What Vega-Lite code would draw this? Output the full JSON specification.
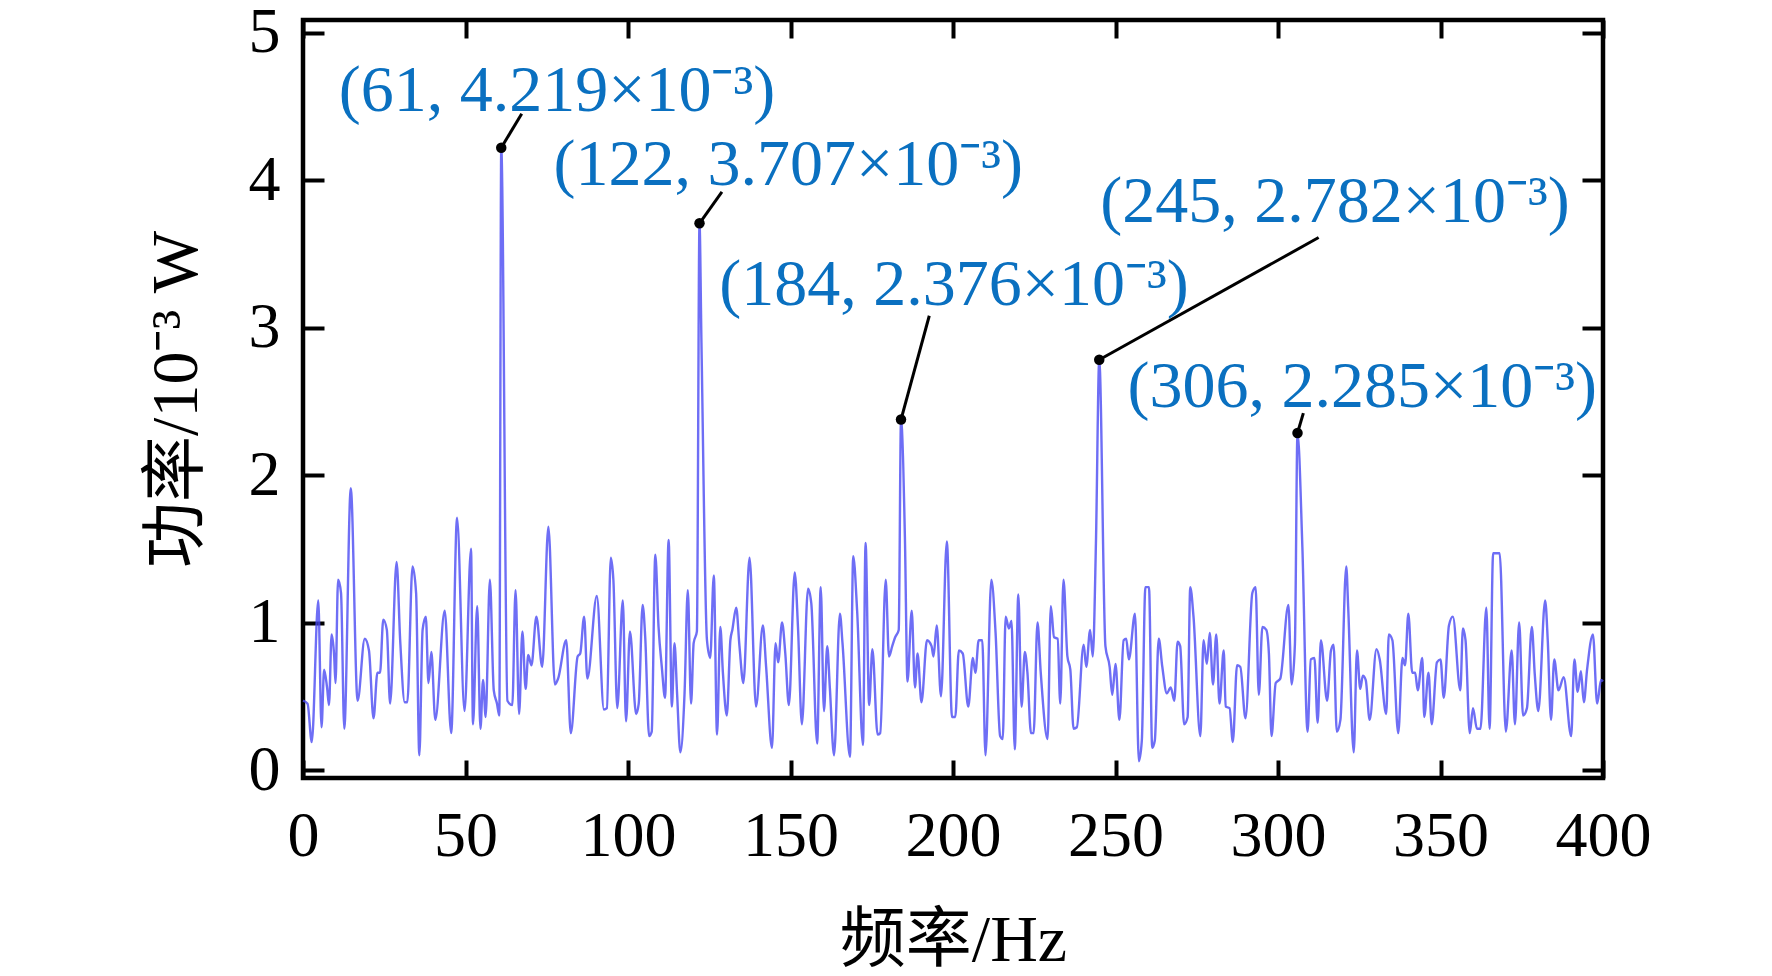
{
  "$schema": "https://vega.github.io/schema/vega-lite/v6.json",
  "width": 1300,
  "height": 758,
  "autosize": {"type": "none"},
  "padding": {"left": 303, "top": 20, "right": 169, "bottom": 198},
  "background": "white",
  "datasets": {
    "spectrum": [
      {"f":0,"p":0.47},{"f":1.4,"p":0.45},{"f":2.7,"p":0.19},{"f":4.7,"p":1.15},{"f":5.7,"p":0.29},{"f":6.5,"p":0.68},{"f":7.4,"p":0.56},{"f":8,"p":0.44},{"f":8.8,"p":0.92},{"f":9.6,"p":0.77},
      {"f":10,"p":0.59},{"f":10.8,"p":1.29},{"f":11.7,"p":1.2},{"f":12.7,"p":0.28},{"f":14.7,"p":1.91},{"f":16.8,"p":0.47},{"f":19,"p":0.89},{"f":20.3,"p":0.81},{"f":21.7,"p":0.35},{"f":22.9,"p":0.66},
      {"f":23.7,"p":0.66},{"f":24.7,"p":1.02},{"f":25.8,"p":0.95},{"f":26.8,"p":0.45},{"f":28.8,"p":1.41},{"f":29.9,"p":0.88},{"f":31.3,"p":0.46},{"f":32.1,"p":0.46},{"f":33.7,"p":1.38},{"f":34.8,"p":1.2},
      {"f":35.8,"p":0.10},{"f":36.8,"p":0.95},{"f":37.8,"p":1.04},{"f":38.6,"p":0.59},{"f":39.5,"p":0.80},{"f":40.7,"p":0.34},{"f":43.6,"p":1.08},{"f":45.6,"p":0.25},{"f":47.4,"p":1.71},{"f":49.7,"p":0.40},
      {"f":51.7,"p":1.50},{"f":52.3,"p":0.31},{"f":53.6,"p":1.11},{"f":54.6,"p":0.28},{"f":55.4,"p":0.61},{"f":56.2,"p":0.36},{"f":57.5,"p":1.29},{"f":58.7,"p":0.54},{"f":59.7,"p":0.45},{"f":60.4,"p":0.37},
      {"f":61,"p":4.219},{"f":62.9,"p":0.47},{"f":64.4,"p":0.44},{"f":65.4,"p":1.22},{"f":66.5,"p":0.38},{"f":67.5,"p":0.94},{"f":68.5,"p":0.55},{"f":69.3,"p":0.78},{"f":70.3,"p":0.71},{"f":71.8,"p":1.04},
      {"f":73.6,"p":0.70},{"f":75.5,"p":1.65},{"f":77.5,"p":0.58},{"f":78.5,"p":0.62},{"f":81,"p":0.88},{"f":82.4,"p":0.25},{"f":84.5,"p":0.77},{"f":85.3,"p":0.79},{"f":86.5,"p":1.04},{"f":87.5,"p":0.62},
      {"f":90.4,"p":1.18},{"f":92.6,"p":0.41},{"f":93.5,"p":0.42},{"f":94.7,"p":1.44},{"f":95.5,"p":1.29},{"f":96.7,"p":0.42},{"f":98.4,"p":1.15},{"f":99.4,"p":0.33},{"f":100.6,"p":0.94},{"f":102.5,"p":0.38},
      {"f":103.3,"p":0.45},{"f":104.5,"p":1.12},{"f":105.3,"p":0.90},{"f":106.5,"p":0.23},{"f":107.3,"p":0.26},{"f":108.4,"p":1.46},{"f":109.4,"p":0.97},{"f":110.4,"p":0.70},{"f":111.4,"p":0.49},{"f":112.5,"p":1.56},
      {"f":113.5,"p":0.43},{"f":114.3,"p":0.86},{"f":115.1,"p":0.52},{"f":116.1,"p":0.12},{"f":117.4,"p":0.52},{"f":118.4,"p":1.22},{"f":119.4,"p":0.45},{"f":120.2,"p":0.86},{"f":121.2,"p":0.94},{"f":122,"p":3.707},
      {"f":122.6,"p":2.9},{"f":124.3,"p":0.88},{"f":125.3,"p":0.76},{"f":126.4,"p":1.32},{"f":127.4,"p":0.24},{"f":128.4,"p":0.97},{"f":129.2,"p":0.66},{"f":130.4,"p":0.37},{"f":131.5,"p":0.88},{"f":132.1,"p":0.95},
      {"f":133.3,"p":1.10},{"f":134.3,"p":0.84},{"f":135.5,"p":0.59},{"f":137.4,"p":1.44},{"f":139.4,"p":0.43},{"f":141.5,"p":0.98},{"f":142.5,"p":0.70},{"f":144.3,"p":0.15},{"f":145.4,"p":0.86},{"f":146.2,"p":0.73},
      {"f":147.4,"p":1.00},{"f":148.4,"p":0.79},{"f":149.5,"p":0.44},{"f":151.3,"p":1.34},{"f":152.3,"p":0.97},{"f":153.5,"p":0.31},{"f":155.4,"p":1.23},{"f":156.4,"p":1.13},{"f":158.2,"p":0.18},{"f":159.3,"p":1.24},
      {"f":160.3,"p":0.40},{"f":161.3,"p":0.84},{"f":162.1,"p":0.56},{"f":163.4,"p":0.10},{"f":165.2,"p":1.06},{"f":166,"p":0.86},{"f":168.3,"p":0.09},{"f":169.3,"p":1.45},{"f":170.5,"p":1.08},{"f":172.3,"p":0.17},
      {"f":173.1,"p":1.54},{"f":174.2,"p":0.44},{"f":175.2,"p":0.82},{"f":176.8,"p":0.24},{"f":177.6,"p":0.25},{"f":179.3,"p":1.29},{"f":180.3,"p":0.77},{"f":181.3,"p":0.84},{"f":182.2,"p":0.90},{"f":183.3,"p":0.95},
      {"f":184,"p":2.376},{"f":185.2,"p":1.58},{"f":186,"p":0.60},{"f":187.3,"p":1.08},{"f":188.3,"p":0.56},{"f":189.1,"p":0.79},{"f":190.3,"p":0.46},{"f":192,"p":0.88},{"f":193.4,"p":0.84},{"f":194,"p":0.77},
      {"f":195,"p":0.98},{"f":196.3,"p":0.50},{"f":198.1,"p":1.55},{"f":199.7,"p":0.36},{"f":200.7,"p":0.36},{"f":201.8,"p":0.81},{"f":203,"p":0.79},{"f":204.7,"p":0.43},{"f":206.1,"p":0.76},{"f":206.9,"p":0.66},
      {"f":207.9,"p":0.88},{"f":209,"p":0.88},{"f":210,"p":0.10},{"f":211.8,"p":1.29},{"f":213.1,"p":0.93},{"f":214.5,"p":0.23},{"f":215.3,"p":0.21},{"f":216.2,"p":1.04},{"f":217.2,"p":0.96},{"f":218,"p":1.01},
      {"f":219,"p":0.14},{"f":220.1,"p":1.19},{"f":221.1,"p":0.43},{"f":222.1,"p":0.80},{"f":222.9,"p":0.66},{"f":224,"p":0.25},{"f":224.8,"p":0.25},{"f":226,"p":1.00},{"f":227,"p":0.66},{"f":229.1,"p":0.21},
      {"f":230.1,"p":1.11},{"f":231.1,"p":0.90},{"f":232.2,"p":0.89},{"f":233,"p":0.45},{"f":234,"p":1.29},{"f":235.2,"p":0.77},{"f":236.1,"p":0.68},{"f":237.1,"p":0.28},{"f":238.1,"p":0.29},{"f":240.2,"p":0.85},
      {"f":241,"p":0.70},{"f":242.2,"p":0.95},{"f":243,"p":0.77},{"f":244,"p":1.56},{"f":245,"p":2.782},{"f":246.9,"p":0.84},{"f":248.2,"p":0.70},{"f":249,"p":0.51},{"f":250,"p":0.72},{"f":251.2,"p":0.34},
      {"f":252.5,"p":0.88},{"f":253.3,"p":0.89},{"f":254.1,"p":0.75},{"f":256,"p":1.06},{"f":257.2,"p":0.06},{"f":258.1,"p":0.2},{"f":259.2,"p":1.24},{"f":260.3,"p":1.24},{"f":261.3,"p":0.15},{"f":262.1,"p":0.2},
      {"f":263.3,"p":0.89},{"f":264.4,"p":0.70},{"f":265.8,"p":0.52},{"f":267,"p":0.56},{"f":268.1,"p":0.47},{"f":269.1,"p":0.87},{"f":269.9,"p":0.84},{"f":271.1,"p":0.31},{"f":272.2,"p":0.36},{"f":273,"p":1.24},
      {"f":274,"p":1.04},{"f":276.1,"p":0.23},{"f":277.1,"p":0.88},{"f":278.1,"p":0.72},{"f":279,"p":0.93},{"f":280,"p":0.58},{"f":281,"p":0.92},{"f":282,"p":0.45},{"f":283.3,"p":0.81},{"f":283.9,"p":0.43},
      {"f":285.1,"p":0.42},{"f":286.1,"p":0.19},{"f":287.4,"p":0.71},{"f":288.4,"p":0.70},{"f":290,"p":0.35},{"f":292.1,"p":1.20},{"f":293.1,"p":1.24},{"f":294.1,"p":0.51},{"f":295.2,"p":0.97},{"f":296.4,"p":0.95},
      {"f":297.2,"p":0.79},{"f":298,"p":0.23},{"f":299.3,"p":0.59},{"f":300.7,"p":0.62},{"f":303.2,"p":1.12},{"f":304.2,"p":0.58},{"f":305.2,"p":0.85},{"f":306,"p":2.285},{"f":307.5,"p":1.51},{"f":309.1,"p":0.26},
      {"f":310.1,"p":0.75},{"f":311.2,"p":0.76},{"f":312.2,"p":0.32},{"f":313.2,"p":0.88},{"f":315.1,"p":0.47},{"f":316.3,"p":0.81},{"f":317.1,"p":0.85},{"f":318.1,"p":0.26},{"f":319.2,"p":0.34},{"f":321,"p":1.38},
      {"f":321.6,"p":1.1},{"f":323.3,"p":0.12},{"f":324.3,"p":0.81},{"f":325.3,"p":0.55},{"f":326.1,"p":0.64},{"f":327,"p":0.61},{"f":328.2,"p":0.34},{"f":330.3,"p":0.82},{"f":331.3,"p":0.75},{"f":333.3,"p":0.38},
      {"f":334.1,"p":0.92},{"f":335.2,"p":0.88},{"f":337,"p":0.25},{"f":338.3,"p":0.76},{"f":339.1,"p":0.71},{"f":340.1,"p":1.06},{"f":341.3,"p":0.66},{"f":342.2,"p":0.66},{"f":343,"p":0.54},{"f":344.4,"p":0.76},
      {"f":345,"p":0.36},{"f":346.3,"p":0.66},{"f":347.3,"p":0.31},{"f":348.9,"p":0.73},{"f":350,"p":0.75},{"f":351,"p":0.49},{"f":352.6,"p":0.98},{"f":353.8,"p":1.04},{"f":356.1,"p":0.54},{"f":356.9,"p":0.96},
      {"f":357.7,"p":0.88},{"f":359,"p":0.25},{"f":360,"p":0.42},{"f":361.2,"p":0.28},{"f":362.3,"p":0.28},{"f":364.1,"p":1.10},{"f":365.1,"p":0.28},{"f":366.2,"p":1.47},{"f":368.2,"p":1.47},{"f":370.1,"p":0.26},
      {"f":371.9,"p":0.81},{"f":372.9,"p":0.31},{"f":374.2,"p":1.00},{"f":375.4,"p":0.37},{"f":376.6,"p":0.42},{"f":378.1,"p":0.97},{"f":379,"p":0.65},{"f":380.1,"p":0.40},{"f":382.2,"p":1.15},{"f":383,"p":0.88},
      {"f":384,"p":0.34},{"f":385,"p":0.75},{"f":386.3,"p":0.54},{"f":387.9,"p":0.63},{"f":390.2,"p":0.23},{"f":391.2,"p":0.75},{"f":392.2,"p":0.53},{"f":393.2,"p":0.67},{"f":394.1,"p":0.46},{"f":395.1,"p":0.68},
      {"f":396.9,"p":0.92},{"f":398.2,"p":0.45},{"f":399.4,"p":0.61},{"f":400,"p":0.6}
    ],
    "peaks": [
      {"f":61,"p":4.219,"lf":67.3,"lp":4.45,"tf":11.0,"tp":4.47,"label":"(61, 4.219×10⁻³)"},
      {"f":122,"p":3.707,"lf":128.9,"lp":3.92,"tf":77.1,"tp":3.965,"label":"(122, 3.707×10⁻³)"},
      {"f":184,"p":2.376,"lf":192.7,"lp":3.08,"tf":128.1,"tp":3.156,"label":"(184, 2.376×10⁻³)"},
      {"f":245,"p":2.782,"lf":312.5,"lp":3.61,"tf":245.3,"tp":3.718,"label":"(245, 2.782×10⁻³)"},
      {"f":306,"p":2.285,"lf":307.8,"lp":2.42,"tf":253.7,"tp":2.462,"label":"(306, 2.285×10⁻³)"}
    ]
  },
  "layer": [
    {
      "data": {"name": "spectrum"},
      "mark": {"type": "line", "color": "#4a4af2", "strokeWidth": 2.4, "opacity": 0.8, "interpolate": "monotone"},
      "encoding": {
        "x": {
          "field": "f", "type": "quantitative",
          "scale": {"domain": [0, 400], "nice": false, "zero": false},
          "axis": {
            "orient": "bottom", "values": [0, 50, 100, 150, 200, 250, 300, 350, 400],
            "title": "频率/Hz", "titlePadding": 40,
            "labelPadding": 44, "tickSize": -18
          }
        },
        "y": {
          "field": "p", "type": "quantitative",
          "scale": {"domain": [-0.054, 5.085], "nice": false, "zero": false},
          "axis": {
            "orient": "left", "values": [0, 1, 2, 3, 4, 5],
            "title": "功率/10⁻³ W", "titlePadding": 38,
            "labelPadding": 44, "tickSize": -21
          }
        }
      }
    },
    {
      "data": {"name": "peaks"},
      "mark": {"type": "rule", "color": "black", "strokeWidth": 3},
      "encoding": {
        "x": {
          "field": "f", "type": "quantitative",
          "scale": {"domain": [0, 400], "nice": false, "zero": false},
          "axis": {
            "orient": "top", "values": [0, 50, 100, 150, 200, 250, 300, 350, 400],
            "labels": false, "title": null, "tickSize": -18
          }
        },
        "y": {
          "field": "p", "type": "quantitative",
          "scale": {"domain": [-0.054, 5.085], "nice": false, "zero": false},
          "axis": {
            "orient": "right", "values": [0, 1, 2, 3, 4, 5],
            "labels": false, "title": null, "tickSize": -21
          }
        },
        "x2": {"field": "lf"},
        "y2": {"field": "lp"}
      }
    },
    {
      "data": {"name": "peaks"},
      "mark": {"type": "point", "filled": true, "color": "black", "size": 110, "opacity": 1},
      "encoding": {
        "x": {"field": "f", "type": "quantitative", "axis": null},
        "y": {"field": "p", "type": "quantitative", "axis": null}
      }
    },
    {
      "data": {"name": "peaks"},
      "mark": {
        "type": "text", "align": "left", "baseline": "alphabetic",
        "font": "Liberation Serif", "fontSize": 66, "color": "#0a70c0"
      },
      "encoding": {
        "x": {"field": "tf", "type": "quantitative", "axis": null},
        "y": {"field": "tp", "type": "quantitative", "axis": null},
        "text": {"field": "label"}
      }
    }
  ],
  "resolve": {"axis": {"x": "independent", "y": "independent"}},
  "config": {
    "view": {"stroke": "black", "strokeWidth": 4.5},
    "axis": {
      "domain": false,
      "grid": false,
      "ticks": true,
      "tickColor": "black",
      "tickWidth": 4,
      "labelFlush": false,
      "labelFont": "Liberation Serif",
      "labelFontSize": 64,
      "labelColor": "black",
      "titleFont": "Liberation Serif, Noto Sans CJK SC",
      "titleFontSize": 66,
      "titleFontWeight": "normal",
      "titleColor": "black"
    }
  }
}
